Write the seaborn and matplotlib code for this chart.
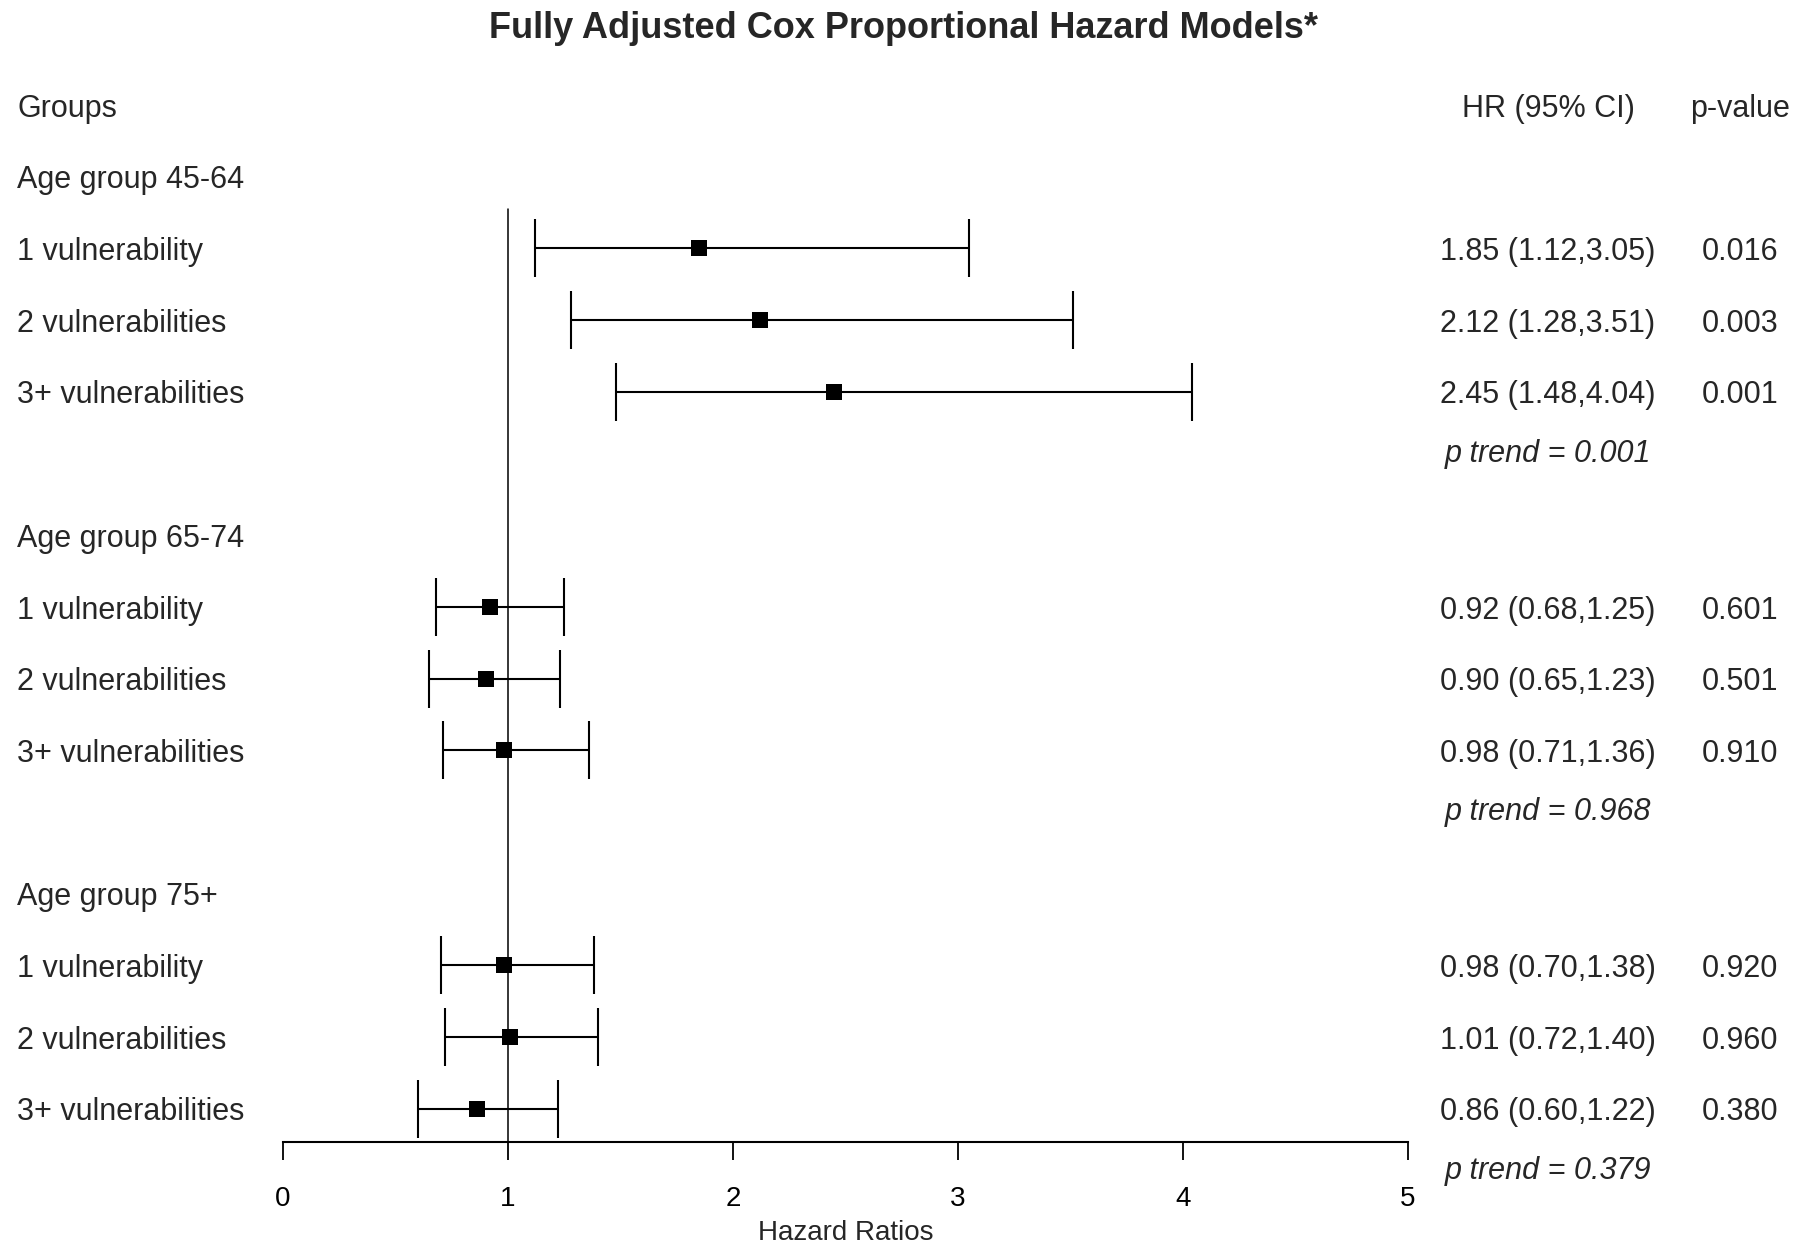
import matplotlib
matplotlib.use("Agg")
import matplotlib.pyplot as plt
import seaborn as sns
import pandas as pd

# ---- data ----
age_groups = ["Age group 45-64", "Age group 65-74", "Age group 75+"]
levels = ["1 vulnerability", "2 vulnerabilities", "3+ vulnerabilities"]
hr = [1.85, 2.12, 2.45, 0.92, 0.90, 0.98, 0.98, 1.01, 0.86]
ci_low = [1.12, 1.28, 1.48, 0.68, 0.65, 0.71, 0.70, 0.72, 0.60]
ci_high = [3.05, 3.51, 4.04, 1.25, 1.23, 1.36, 1.38, 1.40, 1.22]
p_values = ["0.016", "0.003", "0.001", "0.601", "0.501", "0.910", "0.920", "0.960", "0.380"]
p_trend = ["0.001", "0.968", "0.379"]
x_ticks = [0, 1, 2, 3, 4, 5]

sns.set_theme(style="white")
plt.rcParams['font.family'] = ['Liberation Sans', 'DejaVu Sans']

# rows layout
rows = []
for g in range(3):
    for i in range(3):
        rows.append(2 + 5 * g + i)
df = pd.DataFrame({
    "hr": hr, "lo": ci_low, "hi": ci_high, "row": rows,
    "label": levels * 3, "p": p_values,
})

fig = plt.figure(figsize=(18, 12.53), dpi=100)
ax = fig.add_axes([283 / 1800, 0, 1125 / 1800, 1])
ax.set_xlim(0, 5)
ax.set_ylim(16.01, -1.464)

# reference line
ax.plot([1, 1], [1.45, 14.46], color="black", lw=1.1, zorder=1)

# CI bars
ax.errorbar(df["hr"], df["row"],
            xerr=[df["hr"] - df["lo"], df["hi"] - df["hr"]],
            fmt="none", ecolor="black", elinewidth=1.5, capsize=21,
            capthick=1.5, zorder=2)
sns.scatterplot(data=df, x="hr", y="row", marker="s", s=118, color="black",
                linewidth=0, ax=ax, zorder=3, legend=False)

FS = 22
XL = -1.182
XHR = 5.622
XP = 6.476
DY = 0.05  # small downward text offset
# headers
ax.text(XL, 0 + DY, "Groups", fontsize=FS, ha="left", va="center", clip_on=False)
ax.text(XHR, 0 + DY, "HR (95% CI)", fontsize=FS, ha="center", va="center", clip_on=False)
ax.text(XP, 0 + DY, "p-value", fontsize=FS, ha="center", va="center", clip_on=False)

for g, name in enumerate(age_groups):
    ax.text(XL, 1 + 5 * g + DY, name, fontsize=FS, ha="left", va="center", clip_on=False)
    ax.text(XHR, 4.84 + 5 * g + DY / 2, f"p trend = {p_trend[g]}", fontsize=FS,
            style="italic", ha="center", va="center", clip_on=False)

for _, r in df.iterrows():
    ax.text(XL, r["row"] + DY, r["label"], fontsize=FS, ha="left", va="center", clip_on=False)
    ax.text(XHR, r["row"] + DY, f"{r['hr']:.2f} ({r['lo']:.2f},{r['hi']:.2f})",
            fontsize=FS, ha="center", va="center", clip_on=False)
    ax.text(XP, r["row"] + DY, r["p"], fontsize=FS, ha="center", va="center", clip_on=False)

# axes styling
for s in ["left", "top", "right"]:
    ax.spines[s].set_visible(False)
ax.spines["bottom"].set_position(("data", 14.46))
ax.spines["bottom"].set_bounds(0, 5)
ax.spines["bottom"].set_color("black")
ax.spines["bottom"].set_linewidth(1.5)
ax.set_xticks(x_ticks)
ax.set_xticklabels([str(t) for t in x_ticks])
ax.tick_params(axis="x", direction="out", length=13, width=1.3, pad=19,
               labelsize=20, colors="black", bottom=True)
ax.set_yticks([])
ax.set_xlabel("")
ax.set_ylabel("")
ax.text(2.5, 15.73, "Hazard Ratios", fontsize=20, ha="center", va="center", clip_on=False)
ax.grid(False)
ax.patch.set_alpha(0)

fig.text(903 / 1800, 1 - 29 / 1253, "Fully Adjusted Cox Proportional Hazard Models*",
         fontsize=26, fontweight="bold", ha="center", va="center")

fig.savefig("out.png", dpi=100, facecolor="white")
